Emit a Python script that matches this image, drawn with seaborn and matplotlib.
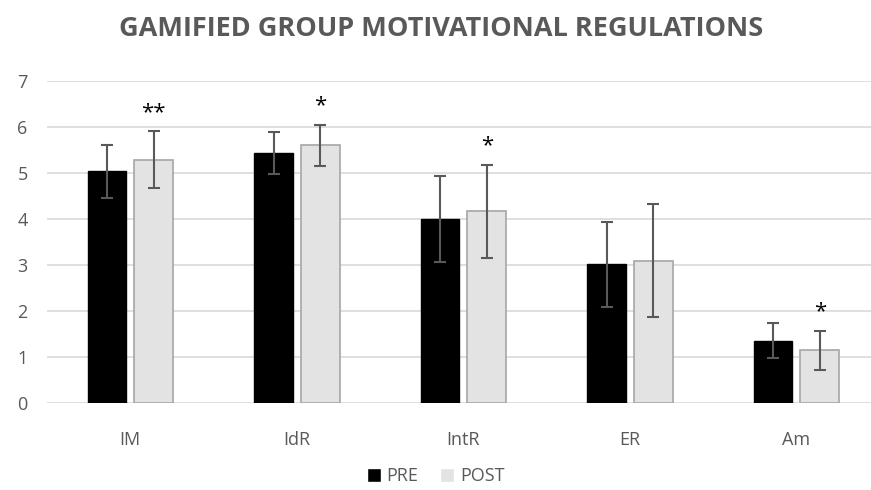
import numpy as np
import pandas as pd
import matplotlib
matplotlib.use("Agg")
import matplotlib.pyplot as plt
import seaborn as sns

categories = ["IM", "IdR", "IntR", "ER", "Am"]
pre_mean = [5.03, 5.43, 4.00, 3.01, 1.35]
post_mean = [5.28, 5.60, 4.16, 3.09, 1.14]
pre_sd = [0.57, 0.46, 0.94, 0.93, 0.38]
post_sd = [0.62, 0.45, 1.02, 1.23, 0.42]
post_marks = ["**", "*", "*", "", "*"]

sns.set_theme(style="white")
plt.rcParams["font.family"] = ["Open Sans", "DejaVu Sans"]

df = pd.DataFrame({
    "cat": categories * 2,
    "val": pre_mean + post_mean,
    "grp": ["PRE"] * 5 + ["POST"] * 5,
})

fig = plt.figure(figsize=(8.71, 4.9), dpi=100)
ax = fig.add_axes([0.054, 0.178, 0.956, 0.657])

sns.barplot(data=df, x="cat", y="val", hue="grp", order=categories,
            hue_order=["PRE", "POST"], palette={"PRE": "black", "POST": "#e3e3e3"},
            width=0.56, gap=0.17, errorbar=None, ax=ax, legend=True)

# edge colour for POST bars
for p in ax.containers[1]:
    p.set_edgecolor("#a6a6a6")
    p.set_linewidth(1.2)
for p in ax.containers[0]:
    p.set_edgecolor("black")

# error bars from bar centres
for cont, means, sds in [(ax.containers[0], pre_mean, pre_sd),
                         (ax.containers[1], post_mean, post_sd)]:
    xs = [p.get_x() + p.get_width() / 2 for p in cont]
    ax.errorbar(xs, means, yerr=sds, fmt="none", ecolor="#595959",
                elinewidth=1.5, capsize=4, capthick=1.5, zorder=5)

xs_post = [p.get_x() + p.get_width() / 2 for p in ax.containers[1]]
for x, m, s, mark in zip(xs_post, post_mean, post_sd, post_marks):
    if mark:
        ax.annotate(mark, (x, m + s), xytext=(0, 6), textcoords="offset points",
                    ha="center", va="bottom", fontsize=16, color="black")

ax.set_ylim(0, 7)
ax.set_xlim(-0.5, 4.5)
ax.set_yticks(range(0, 8))
ax.yaxis.grid(True, color="#d9d9d9", linewidth=1.2)
ax.set_axisbelow(True)
for s in ax.spines.values():
    s.set_visible(False)
ax.tick_params(axis="y", length=0, pad=14, labelsize=13, labelcolor="#595959")
ax.tick_params(axis="x", length=0, pad=20, labelsize=13, labelcolor="#595959")
ax.set_xlabel("")
ax.set_ylabel("")

fig.suptitle("GAMIFIED GROUP MOTIVATIONAL REGULATIONS", x=0.506, y=0.968,
             va="top", fontsize=19.5, fontweight="bold", color="#595959")

handles, labels = ax.get_legend_handles_labels()
ax.get_legend().remove()
fig.legend(handles, labels, loc="center", bbox_to_anchor=(0.5, 0.028), ncol=2,
           frameon=False, fontsize=13, labelcolor="#595959", handlelength=0.8,
           handleheight=0.8, handletextpad=0.3, columnspacing=1.2)

fig.savefig("out.png", dpi=100)
